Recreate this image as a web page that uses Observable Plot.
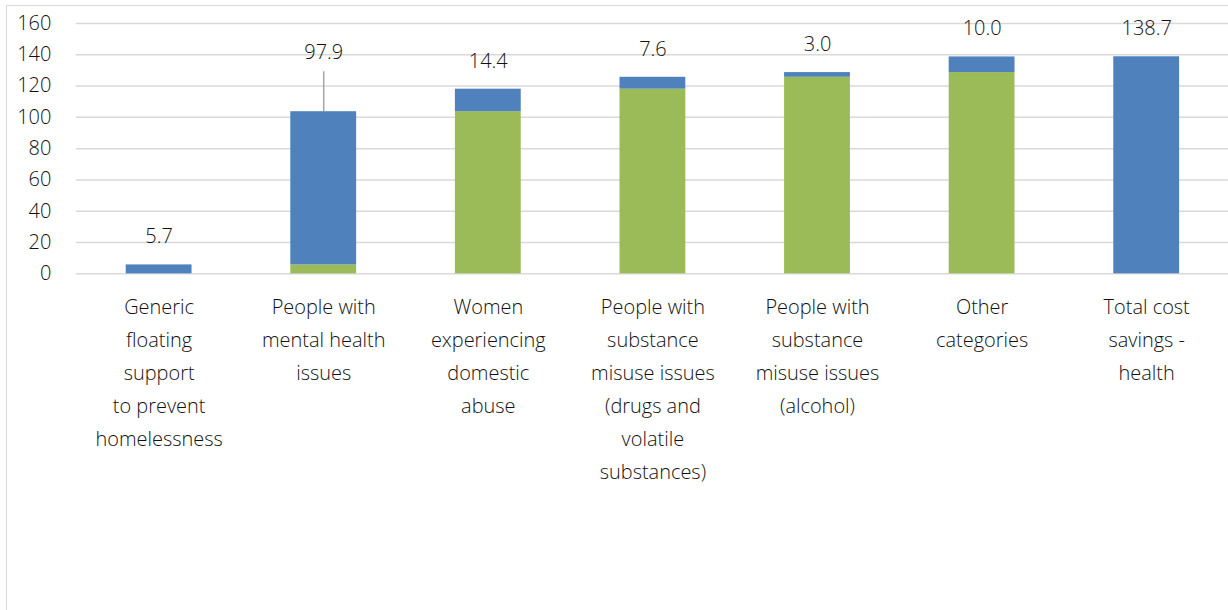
<!DOCTYPE html>
<html>
<head>
<meta charset="utf-8">
<script src="https://cdn.jsdelivr.net/npm/d3@7"></script>
<script src="https://cdn.jsdelivr.net/npm/@observablehq/plot@0.6"></script>
<style>
  html, body { margin: 0; padding: 0; background: #fff; overflow: hidden; width: 1228px; height: 610px; }
  #wrap { position: relative; width: 1228px; height: 610px; }
  #frame { position: absolute; left: 6px; top: 5px; width: 1300px; height: 700px; border-left: 1.5px solid #d9d9d9; border-top: 1.5px solid #d9d9d9; pointer-events: none; }
  #chart { position: absolute; left: 0; top: 0; }
  svg { font-family: "Open Sans", sans-serif; }
</style>
</head>
<body>
<div id="wrap"><div id="chart"></div><div id="frame"></div></div>
<script>
// ---- data ----
const categories = [
  "Generic floating support to prevent homelessness",
  "People with mental health issues",
  "Women experiencing domestic abuse",
  "People with substance misuse issues (drugs and volatile substances)",
  "People with substance misuse issues (alcohol)",
  "Other categories",
  "Total cost savings - health"
];
const categoryLabels = [
  "Generic\nfloating\nsupport\nto prevent\nhomelessness",
  "People with\nmental health\nissues",
  "Women\nexperiencing\ndomestic\nabuse",
  "People with\nsubstance\nmisuse issues\n(drugs and\nvolatile\nsubstances)",
  "People with\nsubstance\nmisuse issues\n(alcohol)",
  "Other\ncategories",
  "Total cost\nsavings -\nhealth"
];
const increments = [5.7, 97.9, 14.4, 7.6, 3.0, 10.0];
const totalValue = 138.7;
const yTicks = [0, 20, 40, 60, 80, 100, 120, 140, 160];

// ---- build waterfall table ----
const rows = [];
let cum = 0;
increments.forEach((v, i) => {
  rows.push({cat: categories[i], base: cum, top: cum + v, value: v});
  cum += v;
});
rows.push({cat: categories[6], base: 0, top: totalValue, value: totalValue, total: true});

const labelOf = new Map(categories.map((c, i) => [c, categoryLabels[i]]));

// label placement: the tall 97.9 bar gets a leader line (as in Excel)
const leaderIdx = 1;
const labels = rows.map((r, i) => ({...r, ly: i === leaderIdx ? r.top + 20 : r.top}));
const leader = [{cat: rows[leaderIdx].cat, y1: rows[leaderIdx].top, y2: rows[leaderIdx].top + 25.5}];

const blue = "#4F81BD", green = "#9BBB59", textCol = "#111";

const chart = Plot.plot({
  width: 1231,
  height: 610,
  marginLeft: 76,
  marginRight: 0,
  marginTop: 23,
  marginBottom: 336,
  style: {fontFamily: "'Open Sans', sans-serif", fontSize: "20px", color: textCol, background: "transparent"},
  x: {domain: categories, paddingInner: 0.6, paddingOuter: 0.3, axis: null},
  y: {domain: [0, 160], ticks: yTicks, axis: null},
  marks: [
    Plot.gridY(yTicks, {stroke: "#d9d9d9", strokeOpacity: 1, strokeWidth: 1.5}),
    Plot.axisY(yTicks, {tickSize: 0, tickPadding: 25, fontSize: 20, fill: textCol, label: null, fontWeight: 300}),
    Plot.barY(rows.filter(r => !r.total && r.base > 0), {x: "cat", y1: 0, y2: "base", fill: green}),
    Plot.barY(rows, {x: "cat", y1: "base", y2: "top", fill: blue}),
    Plot.ruleX(leader, {x: "cat", y1: "y1", y2: "y2", stroke: "#a6a6a6", strokeWidth: 1.5}),
    Plot.text(labels, {x: "cat", y: "ly", text: d => d.value.toFixed(1), dy: -28, fontSize: 20, fill: textCol, fontWeight: 300}),
    Plot.text(categories, {x: d => d, y: 0, text: d => labelOf.get(d), lineAnchor: "top", dy: 17, lineHeight: 1.65, fontSize: 20, fill: textCol, fontWeight: 300})
  ]
});
document.getElementById("chart").appendChild(chart);
</script>
</body>
</html>
